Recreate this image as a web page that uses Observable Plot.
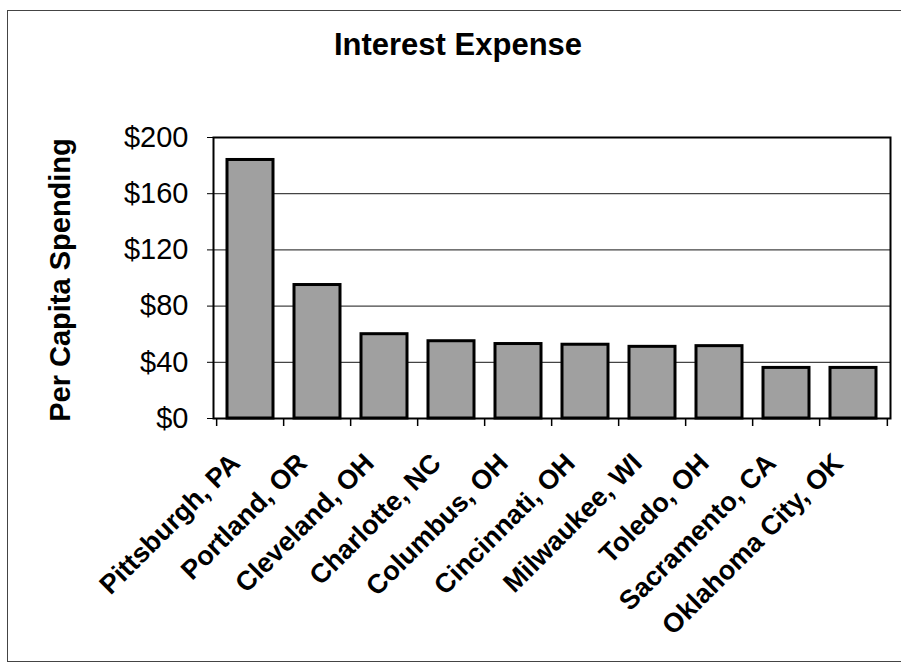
<!DOCTYPE html>
<html>
<head>
<meta charset="utf-8">
<script src="https://cdn.jsdelivr.net/npm/d3@7"></script>
<script src="https://cdn.jsdelivr.net/npm/@observablehq/plot@0.6"></script>
<style>
  html, body { margin: 0; padding: 0; background: #fff; }
  #wrap { position: relative; width: 901px; height: 666px; overflow: hidden; font-family: "Liberation Sans", Arial, sans-serif; }
  #border { position: absolute; left: 7px; top: 10px; width: 900px; height: 652px; border-left: 1.5px solid #444; border-top: 1.5px solid #444; border-bottom: 1.5px solid #444; box-sizing: border-box; }
  #title { position: absolute; left: 458px; top: 28px; transform: translateX(-50%); font-size: 31px; font-weight: bold; white-space: nowrap; color: #000; line-height: 34px; }
  #chart { position: absolute; left: 0; top: 0; }
</style>
</head>
<body>
<div id="wrap">
  <div id="border"></div>
  <div id="chart"></div>
  <div id="title">Interest Expense</div>
</div>
<script>
const titleText = "Interest Expense";
const yLabel = "Per Capita Spending";
const cities = ["Pittsburgh, PA", "Portland, OR", "Cleveland, OH", "Charlotte, NC", "Columbus, OH", "Cincinnati, OH", "Milwaukee, WI", "Toledo, OH", "Sacramento, CA", "Oklahoma City, OK"];
const spending = [184, 95, 60, 55, 53, 52.5, 51, 51.5, 36, 36];
const yTicks = [0, 40, 80, 120, 160, 200];
const gridTicks = [40, 80, 120, 160];

const data = cities.map((c, i) => ({city: c, value: spending[i]}));

const W = 901, H = 666, ML = 213, MR = 11, MT = 137, MB = 248;
const step = (W - ML - MR) / cities.length;
const font = "'Liberation Sans', Arial, sans-serif";

const chart = Plot.plot({
  width: W,
  height: H,
  marginLeft: ML,
  marginRight: MR,
  marginTop: MT,
  marginBottom: MB,
  style: {fontFamily: font, background: "transparent", color: "#000"},
  x: {domain: cities, paddingInner: 0.32, paddingOuter: 0.16, axis: null},
  y: {domain: [0, 200], axis: null},
  marks: [
    Plot.gridY(gridTicks, {stroke: "#444", strokeOpacity: 1, strokeWidth: 1.2}),
    Plot.barY(data, {x: "city", y: "value", fill: "#a0a0a0", stroke: "#000", strokeWidth: 3}),
    Plot.frame({stroke: "#000", strokeWidth: 2}),
    Plot.axisY({ticks: yTicks, tickFormat: d => "$" + d, tickSize: 6, tickPadding: 19, fontSize: 29, label: null, stroke: "#000"}),
    Plot.ruleX(cities, {x: d => d, dx: -step / 2, insetTop: H - MT - MB, insetBottom: -8, stroke: "#000", strokeWidth: 1.5}),
    Plot.ruleX([cities[cities.length - 1]], {x: d => d, dx: step / 2, insetTop: H - MT - MB, insetBottom: -8, stroke: "#000", strokeWidth: 1.5}),
    Plot.text(cities, {x: d => d, frameAnchor: "bottom", rotate: -45, textAnchor: "end", lineAnchor: "middle", dx: -15, dy: 40, fontSize: 27, fontWeight: "bold", fill: "#000"}),
    Plot.text([yLabel], {frameAnchor: "left", rotate: -90, textAnchor: "middle", lineAnchor: "middle", dx: -153, dy: 2, fontSize: 29, fontWeight: "bold", fill: "#000"})
  ]
});
document.getElementById("chart").appendChild(chart);
</script>
</body>
</html>
